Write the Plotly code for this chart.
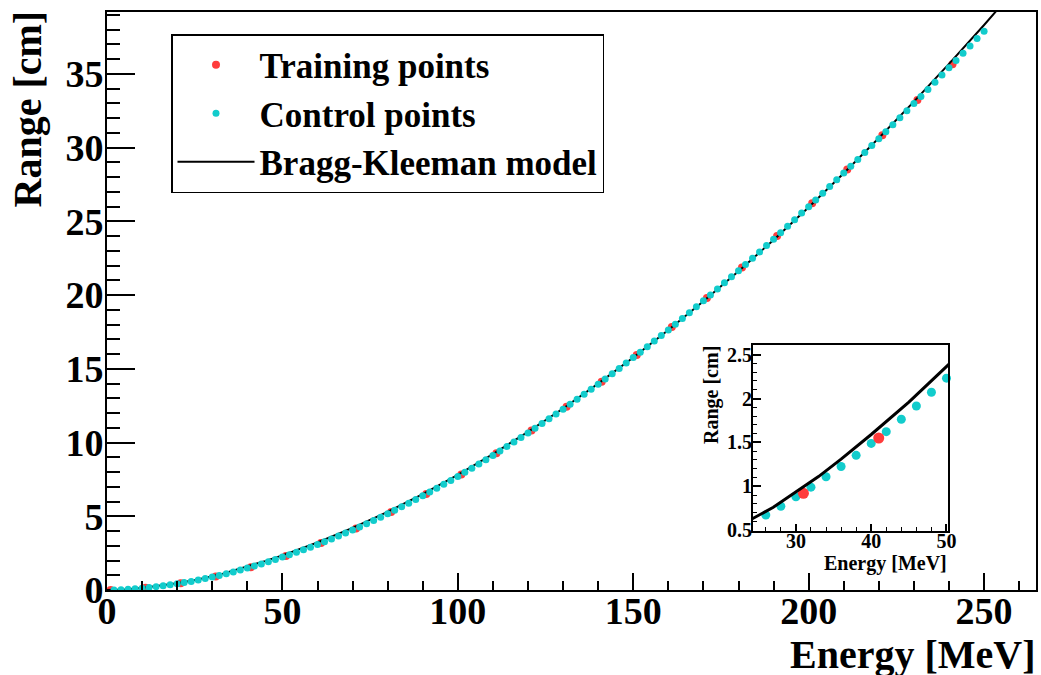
import plotly.graph_objects as go

# ---------------- data ----------------
train_E = [1, 11, 21, 31, 41, 51, 61, 71, 81, 91, 101, 111, 121, 131, 141,
           151, 161, 171, 181, 191, 201, 211, 221, 231, 241]
train_R = [0.002, 0.146, 0.464, 0.92, 1.55, 2.31, 3.18, 4.175, 5.287, 6.51,
           7.84, 9.28, 10.81, 12.42, 14.13, 15.94, 17.83, 19.81, 21.87, 24.01,
           26.23, 28.51, 30.84, 33.23, 35.66]

control_E = [2, 4, 6, 8, 10, 12, 14, 16, 18, 20, 22, 24, 26, 28, 30, 32, 34, 36,
             38, 40, 42, 44, 46, 48, 50, 52, 54, 56, 58, 60, 62, 64, 66, 68, 70,
             72, 74, 76, 78, 80, 82, 84, 86, 88, 90, 92, 94, 96, 98, 100, 102,
             104, 106, 108, 110, 112, 114, 116, 118, 120, 122, 124, 126, 128,
             130, 132, 134, 136, 138, 140, 142, 144, 146, 148, 150, 152, 154,
             156, 158, 160, 162, 164, 166, 168, 170, 172, 174, 176, 178, 180,
             182, 184, 186, 188, 190, 192, 194, 196, 198, 200, 202, 204, 206,
             208, 210, 212, 214, 216, 218, 220, 222, 224, 226, 228, 230, 232,
             234, 236, 238, 240, 242, 244, 246, 248, 250]
control_R = [0.008, 0.024, 0.047, 0.078, 0.123, 0.170, 0.226, 0.289, 0.356,
             0.426, 0.502, 0.578, 0.672, 0.772, 0.880, 0.990, 1.108, 1.225,
             1.352, 1.488, 1.622, 1.764, 1.915, 2.072, 2.232, 2.389, 2.557,
             2.729, 2.906, 3.089, 3.275, 3.467, 3.663, 3.863, 4.070, 4.281,
             4.496, 4.716, 4.941, 5.170, 5.404, 5.642, 5.885, 6.132, 6.384,
             6.640, 6.900, 7.164, 7.432, 7.705, 7.982, 8.263, 8.548, 8.837,
             9.130, 9.427, 9.728, 10.03, 10.34, 10.65, 10.97, 11.29, 11.61,
             11.93, 12.26, 12.59, 12.93, 13.27, 13.61, 13.96, 14.31, 14.67,
             15.03, 15.39, 15.76, 16.13, 16.50, 16.88, 17.26, 17.64, 18.03,
             18.42, 18.81, 19.21, 19.61, 20.01, 20.42, 20.83, 21.24, 21.66,
             22.08, 22.50, 22.93, 23.36, 23.79, 24.23, 24.67, 25.11, 25.56,
             26.00, 26.45, 26.91, 27.36, 27.82, 28.28, 28.74, 29.20, 29.67,
             30.14, 30.61, 31.08, 31.55, 32.03, 32.51, 32.99, 33.47, 33.95,
             34.44, 34.93, 35.42, 35.91, 36.40, 36.90, 37.40, 37.90]

model_E = [0, 5, 10, 15, 20, 24, 27, 30, 33, 36, 40, 45, 50, 55, 60, 70, 80,
           90, 100, 110, 120, 130, 140, 150, 160, 170, 180, 190, 200, 210, 220,
           230, 240, 250, 260]
model_R = [0.0, 0.04, 0.14, 0.28, 0.46, 0.62, 0.76, 0.93, 1.11, 1.31, 1.59,
           1.96, 2.35, 2.77, 3.22, 4.21, 5.30, 6.50, 7.81, 9.22, 10.72, 12.31,
           14.00, 15.77, 17.63, 19.58, 21.62, 23.74, 25.96, 28.26, 30.65, 33.12,
           35.68, 38.32, 41.05]

x_ticks = [0, 50, 100, 150, 200, 250]
y_ticks = [0, 5, 10, 15, 20, 25, 30, 35]
inset_x_ticks = [30, 40, 50]
inset_y_ticks = [0.5, 1, 1.5, 2, 2.5]
inset_lo, inset_hi = 24, 50

# ---------------- styles ----------------
RED = "rgb(255,60,60)"
CYAN = "rgb(18,204,204)"
FONT = "Liberation Serif"

def sub(xs, ys):
    pts = [(a, b) for a, b in zip(xs, ys) if inset_lo <= a <= inset_hi]
    return [p[0] for p in pts], [p[1] for p in pts]

fig = go.Figure()

# main panel
fig.add_trace(go.Scatter(x=train_E, y=train_R, mode="markers", name="Training points",
                         marker=dict(color=RED, size=8), legendrank=1,
                         xaxis="x", yaxis="y"))
fig.add_trace(go.Scatter(x=model_E, y=model_R, mode="lines", name="Bragg-Kleeman model",
                         line=dict(color="black", width=2), legendrank=3,
                         xaxis="x", yaxis="y"))
fig.add_trace(go.Scatter(x=control_E, y=control_R, mode="markers", name="Control points",
                         marker=dict(color=CYAN, size=7), legendrank=2,
                         xaxis="x", yaxis="y"))

# inset panel
ce, cr = sub(control_E, control_R)
te, tr = sub(train_E, train_R)
fig.add_trace(go.Scatter(x=ce, y=cr, mode="markers", showlegend=False,
                         marker=dict(color=CYAN, size=9), cliponaxis=False,
                         xaxis="x2", yaxis="y2"))
fig.add_trace(go.Scatter(x=te, y=tr, mode="markers", showlegend=False,
                         marker=dict(color=RED, size=11), cliponaxis=False,
                         xaxis="x2", yaxis="y2"))
fig.add_trace(go.Scatter(x=model_E, y=model_R, mode="lines", showlegend=False,
                         line=dict(color="black", width=3),
                         xaxis="x2", yaxis="y2"))

W, H = 1041, 675
L, R, T, B = 107, 5, 12, 85
pw, ph = W - L - R, H - T - B

def px(xp):
    return (xp - L) / pw

def py(yp):
    return (H - B - yp) / ph

def axis_common(fs):
    return dict(showline=True, mirror=True, linecolor="black", linewidth=2,
                showgrid=False, zeroline=False, ticks="inside", tickcolor="black",
                tickwidth=2, automargin=False,
                tickfont=dict(family=FONT, size=fs, color="black", weight="bold"))

fig.update_layout(
    width=W, height=H,
    margin=dict(l=L, r=R, t=T, b=B, autoexpand=False),
    paper_bgcolor="white", plot_bgcolor="white",
    showlegend=True,
    legend=dict(x=px(171), y=py(34), xanchor="left", yanchor="top",
                bordercolor="black", borderwidth=1.5, bgcolor="white",
                font=dict(family=FONT, size=35, color="black", weight="bold"),
                itemwidth=77, tracegroupgap=0,
                entrywidth=440, entrywidthmode="pixels"),
    xaxis=dict(range=[0, 264.8], tickvals=x_ticks, ticklen=17, ticklabelstandoff=-14,
               minor=dict(dtick=10, ticklen=9, ticks="inside", tickcolor="black", tickwidth=1.5),
               **axis_common(38)),
    yaxis=dict(range=[0, 39.2], tickvals=y_ticks, ticklen=28, ticklabelstandoff=-6,
               minor=dict(dtick=1, ticklen=13, ticks="inside", tickcolor="black", tickwidth=1.5),
               **axis_common(38)),
    xaxis2=dict(domain=[px(753), px(948)], anchor="y2", range=[24.3, 50.2],
                tickvals=inset_x_ticks, ticklen=7, ticklabelstandoff=-9,
                minor=dict(dtick=2, ticklen=4, ticks="inside", tickcolor="black", tickwidth=1.2),
                **axis_common(20)),
    yaxis2=dict(domain=[py(531), py(345)], anchor="x2", range=[0.49, 2.61],
                tickvals=inset_y_ticks, ticklen=8, ticklabelstandoff=-5,
                minor=dict(dtick=0.1, ticklen=4, ticks="inside", tickcolor="black", tickwidth=1.2),
                **axis_common(20)),
    annotations=[
        dict(text="Range [cm]", xref="paper", yref="paper", x=px(27), y=py(9),
             xanchor="center", yanchor="top", textangle=-90, showarrow=False,
             font=dict(family=FONT, size=40, color="black", weight="bold")),
        dict(text="Energy [MeV]", xref="paper", yref="paper", x=px(1037), y=py(654),
             xanchor="right", yanchor="middle", showarrow=False,
             font=dict(family=FONT, size=40, color="black", weight="bold")),
        dict(text="Range [cm]", xref="paper", yref="paper", x=px(712), y=py(344),
             xanchor="center", yanchor="top", textangle=-90, showarrow=False,
             font=dict(family=FONT, size=20, color="black", weight="bold")),
        dict(text="Energy [MeV]", xref="paper", yref="paper", x=px(949), y=py(563),
             xanchor="right", yanchor="middle", showarrow=False,
             font=dict(family=FONT, size=20, color="black", weight="bold")),
    ],
)

fig.write_html("out.html", config={"displayModeBar": False},
               post_script="document.body.style.margin='0px';document.body.style.overflow='hidden';")
